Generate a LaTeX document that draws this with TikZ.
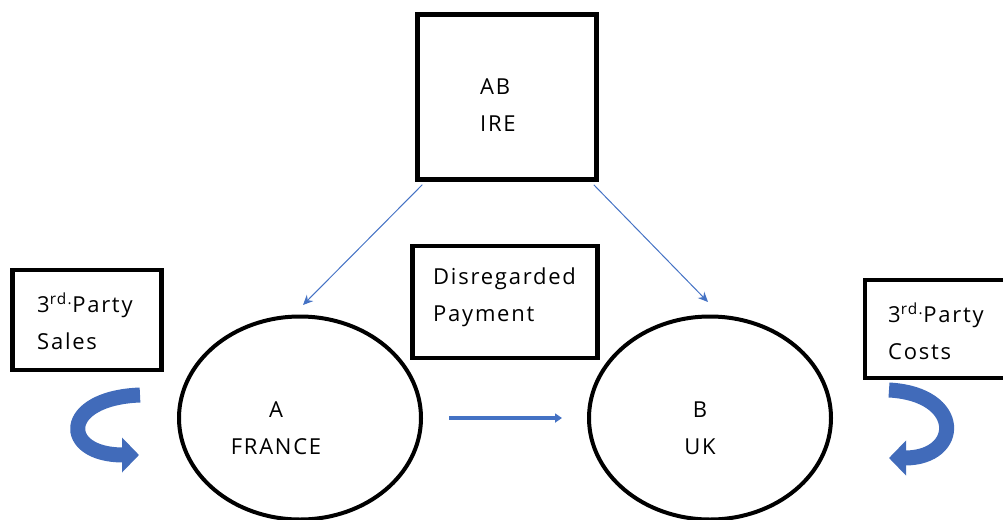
\documentclass[tikz,border=0pt]{standalone}
\usepackage{fontspec}
\setmainfont[LetterSpace=8]{Open Sans}
\usepackage{xcolor}
\usetikzlibrary{
  arrows.meta,
  calc,
  shapes
}
\definecolor{offblue}{HTML}{4472C4}
\definecolor{turnblue}{HTML}{416BBA}
\tikzset{
  entity/.style={
    draw,
    line width=4.5pt,
    rectangle},
  company/.style={
    draw,
    line width=4pt,
    ellipse,
    minimum width=242pt,
    minimum height=203pt},
  txt/.style={
    inner sep=0pt,
    align=left,
    font=\fontsize{22}{37}\selectfont},
  own/.style={
    ->,
    draw=offblue,
    line width=1pt,
    >={Stealth[length=10pt,width=9pt]}},
  pay/.style={
    ->,
    draw=offblue,
    line width=4pt,
    >={Triangle[length=7pt,width=9pt]}},
  flow/.style={
    draw=turnblue,
    line width=15pt,
    -{Triangle[length=17pt,width=34pt]}}
  }
\begin{document}
\begin{tikzpicture}[x=1pt,y=-1pt]
    \useasboundingbox (0,0) rectangle (1003,519);
    % boxes
    \node[entity, minimum width=179pt, minimum height=165pt] (ab) at (507,97) {};
    \node[entity, minimum width=149pt, minimum height=100pt] (sales) at (87,320) {};
    \node[entity, minimum width=185pt, minimum height=112pt] (disr) at (505,302) {};
    \node[entity, minimum width=146pt, minimum height=98pt] (costs) at (938,329) {};
    \node[company] (a) at (300,418) {};
    \node[company] (b) at (710,418) {};
    % texts
    \node[txt, anchor=west] (abtxt) at (480,105) {AB\\IRE};
    \node[txt, anchor=west] (salestxt) at (37,321) {3\textsuperscript{rd.}Party\\Sales};
    \node[txt, anchor=west] (disrtxt) at (433,297) {Disregarded\\Payment};
    \node[txt, anchor=west] (coststxt) at (888,331) {3\textsuperscript{rd.}Party\\Costs};
    \node[txt, align=center] (atxt) at (276,428) {A\\FRANCE};
    \node[txt, align=center] (btxt) at (700,428) {B\\UK};
    % arrows
    \coordinate (ta) at (303,305);
    \coordinate (tb) at (708,302);
    \coordinate (ps) at (449,418);
    \coordinate (pe) at (562,418);
    \path
    ($(ab.south west)+(7,3)$) edge[own] (ta)
    ($(ab.south east)+(-5,3)$) edge[own] (tb);
    \draw [pay] (ps) -- (pe);
    \draw [flow] (140,395) .. controls (60,398) and (60,455) .. (139,455);
    \draw [flow] (889,390) .. controls (964,394) and (962,458) .. (889,458);
  \end{tikzpicture}
\end{document}
